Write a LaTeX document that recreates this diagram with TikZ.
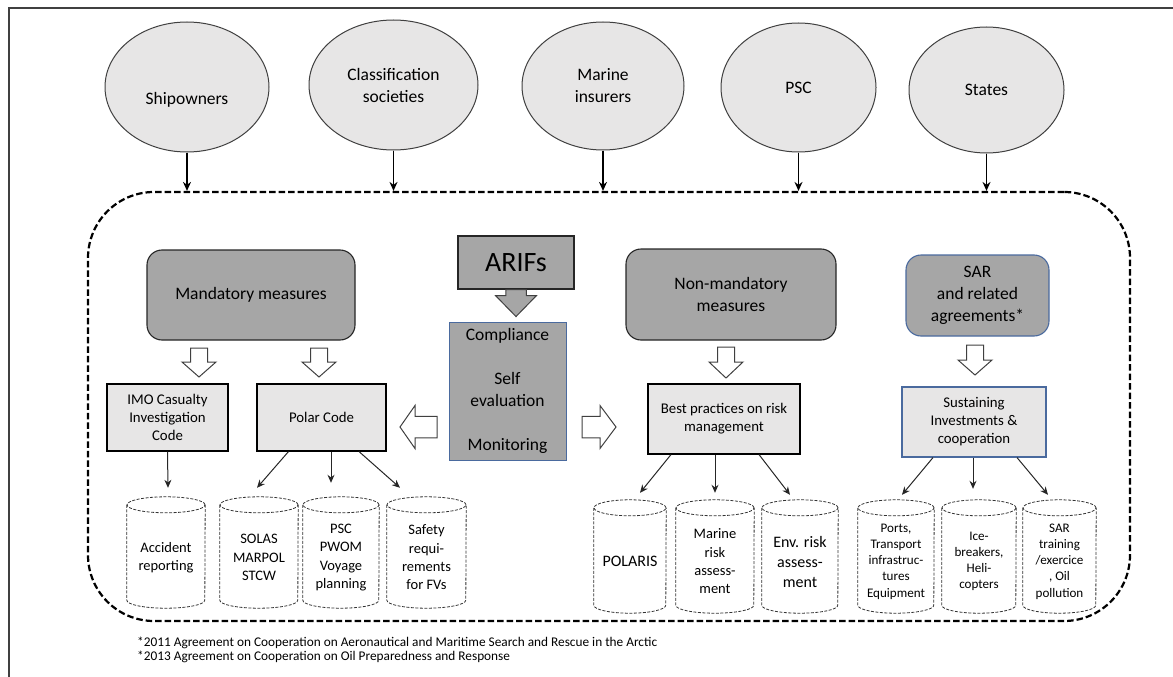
\documentclass[tikz,border=0pt]{standalone}
\usepackage{fontspec}
\setmainfont{Carlito}
\usepackage{xcolor}
\usetikzlibrary{calc, shapes.geometric, arrows.meta}

\definecolor{edgeGray}{HTML}{404040}
\definecolor{partyFill}{HTML}{E7E6E6}
\definecolor{darkFill}{HTML}{A6A6A6}
\definecolor{lightFill}{HTML}{E7E6E6}
\definecolor{blueEdge}{HTML}{4A6A9E}

\newcommand{\fsBig}{\fontsize{17.5pt}{22pt}\selectfont}
\newcommand{\fsHuge}{\fontsize{28pt}{32pt}\selectfont}
\newcommand{\fsBox}{\fontsize{14.8pt}{18pt}\selectfont}
\newcommand{\fsCyl}{\fontsize{14.5pt}{18.3pt}\selectfont}
\newcommand{\fsCylSmall}{\fontsize{13.1pt}{16.2pt}\selectfont}
\newcommand{\fsCylLarge}{\fontsize{16pt}{20pt}\selectfont}
\newcommand{\fsNote}{\fontsize{13.3pt}{14.5pt}\selectfont}

\tikzset{
	party/.style={ellipse, draw=edgeGray, line width=1pt, fill=partyFill, inner sep=0pt, align=center, font=\fsBig},
	zone/.style={draw=black, line width=2.2pt, dash pattern=on 6.5pt off 3pt, rounded corners=66pt, inner sep=0pt},
	darkbox/.style={draw=black!85, line width=1.1pt, fill=darkFill, inner sep=0pt, align=center, font=\fsBig},
	lightbox/.style={draw=black, line width=1.1pt, fill=lightFill, inner sep=0pt, align=center, font=\fsBox},
	cyl/.style={inner sep=0pt, align=center, font=\fsCyl},
	cylline/.style={draw=black!80, line width=0.8pt, dash pattern=on 3pt off 1.5pt},
	hollowarrow/.style={draw=edgeGray, line width=1pt, fill=white},
	grayarrow/.style={draw=edgeGray, line width=1pt, fill=darkFill},
	toparrow/.style={-{Stealth[length=9pt, width=8pt]}, line width=1.8pt},
	thinarrow/.style={-{Stealth[length=8pt, width=7pt]}, line width=1pt, draw=black!85},
	frameline/.style={draw=edgeGray, line width=1.2pt},
	note/.style={inner sep=0pt, align=left, font=\fsNote}
}

\begin{document}
\begin{tikzpicture}[x=1pt, y=-1pt]
	\useasboundingbox (0,0) rectangle (1173,677);

	\newcommand{\drawCylinder}[2]
	{
		\draw[cylline] ([yshift=2pt]#1.north) ellipse (#2pt and 8pt);
		\draw[cylline] ([yshift=2pt]#1.north west) -- ([yshift=8pt]#1.south west) arc (180:360:#2pt and 8pt) -- ([yshift=2pt]#1.north east);
	}

	\newcommand{\drawBlockArrow}[6]
	{
		\draw[#6, shift={#1}, rotate=#2] (0,-#5/2) -- (#3-#4,-#5/2) -- (#3-#4,-#5) -- (#3,0) -- (#3-#4,#5) -- (#3-#4,#5/2) -- (0,#5/2) -- cycle
	}

	\draw[frameline] (9,677) -- (9,8) -- (1173,8);

	% actors
	\node[party, minimum width=164pt, minimum height=130pt] (ship) at (187,87) {\strut\\Shipowners};
	\node[party, minimum width=169pt, minimum height=130pt] (class) at (393.5,85) {Classification\\societies};
	\node[party, minimum width=162pt, minimum height=128pt] (marine) at (603,86) {Marine\\insurers};
	\node[party, minimum width=155pt, minimum height=129pt] (psc) at (798.5,87.5) {PSC};
	\node[party, minimum width=155pt, minimum height=126pt] (states) at (986.5,90) {States};

	\node[zone, minimum width=1042pt, minimum height=429pt] (zone) at (609,406.5) {};

	\foreach \p in {ship, class, marine, psc, states}
		\draw[toparrow] (\p.south) -- (\p.south |- zone.north);

	% measures
	\node[darkbox, rounded corners=15pt, minimum width=208pt, minimum height=90pt] (mand) at (251,295) {Mandatory measures};
	\node[darkbox, font=\fsHuge, minimum width=116pt, minimum height=53pt] (arifs) at (516,262.5) {ARIFs};
	\node[darkbox, draw=blueEdge, line width=0.8pt, minimum width=117pt, minimum height=138pt] (comply) at (507.5,391) {Compliance\\[21.6pt]Self\\evaluation\\[21.6pt]Monitoring};
	\node[darkbox, rounded corners=15pt, minimum width=210pt, minimum height=91pt] (nonmand) at (731,294.5) {Non-mandatory\\measures};
	\node[darkbox, draw=blueEdge, rounded corners=15pt, minimum width=143pt, minimum height=81pt] (sar) at (977.5,295.5) {SAR\\and related\\agreements*};

	\node[lightbox, minimum width=121pt, minimum height=67pt] (imo) at (167.5,417.5) {IMO Casualty\\Investigation\\Code};
	\node[lightbox, minimum width=129pt, minimum height=67pt] (polar) at (321.5,417.5) {Polar Code};
	\node[lightbox, minimum width=152pt, minimum height=70pt] (best) at (724,419) {Best practices on risk\\management};
	\node[lightbox, draw=blueEdge, minimum width=144pt, minimum height=70pt] (sust) at (974,422) {Sustaining\\Investments \&\\cooperation};

	\begin{scope}
		\drawBlockArrow{(arifs.south)}{-90}{27}{21}{20.5}{grayarrow};
		\drawBlockArrow{(199,348)}{-90}{29}{15}{17}{hollowarrow};
		\drawBlockArrow{(319,348)}{-90}{29}{15}{17}{hollowarrow};
		\drawBlockArrow{(726,347)}{-90}{31}{16}{17}{hollowarrow};
		\drawBlockArrow{(975,345)}{-90}{30}{15}{17}{hollowarrow};
		\drawBlockArrow{(437,427)}{180}{37}{15}{21.5}{hollowarrow};
		\drawBlockArrow{(582,427)}{0}{34}{16}{21.5}{hollowarrow};
	\end{scope}

	% instruments
	\node[cyl, minimum width=78pt, minimum height=101pt] (acc) at (166,557.5) {Accident\\reporting};
	\node[cyl, minimum width=78pt, minimum height=101pt] (solas) at (259,557.5) {SOLAS\\MARPOL\\STCW};
	\node[cyl, minimum width=76pt, minimum height=101pt] (pscc) at (341,557.5) {PSC\\PWOM\\Voyage\\planning};
	\node[cyl, minimum width=79pt, minimum height=101pt] (safety) at (426.5,557.5) {Safety\\requi-\\rements\\for FVs};
	\node[cyl, font=\fsCylLarge, minimum width=72pt, minimum height=103pt] (polaris) at (630,561.5) {POLARIS};
	\node[cyl, minimum width=78pt, minimum height=103pt] (marrisk) at (715,561.5) {Marine\\risk\\assess-\\ment};
	\node[cyl, font=\fsCylLarge, minimum width=76pt, minimum height=103pt] (envrisk) at (800,561.5) {Env. risk\\assess-\\ment};
	\node[cyl, font=\fsCylSmall, minimum width=76pt, minimum height=103pt] (ports) at (896,561.5) {Ports,\\Transport\\infrastruc-\\tures\\Equipment};
	\node[cyl, font=\fsCylSmall, minimum width=74pt, minimum height=103pt] (ice) at (979,561.5) {Ice-\\breakers,\\Heli-\\copters};
	\node[cyl, font=\fsCylSmall, minimum width=73pt, minimum height=103pt] (sartr) at (1059.5,561.5) {SAR\\training\\/exercice\\, Oil\\pollution};

	\drawCylinder{acc}{39}
	\drawCylinder{solas}{39}
	\drawCylinder{pscc}{38}
	\drawCylinder{safety}{39.5}
	\drawCylinder{polaris}{36}
	\drawCylinder{marrisk}{39}
	\drawCylinder{envrisk}{38}
	\drawCylinder{ports}{38}
	\drawCylinder{ice}{37}
	\drawCylinder{sartr}{36.5}

	\draw[thinarrow] (imo.south) -- ([xshift=2pt, yshift=19pt]acc.north);
	\draw[thinarrow] ([xshift=-33pt]polar.south) -- ([xshift=-2pt, yshift=19pt]solas.north);
	\draw[thinarrow] ([xshift=9.5pt]polar.south) -- ([xshift=-10pt, yshift=24pt]pscc.north);
	\draw[thinarrow] ([xshift=37.5pt]polar.south) -- ([xshift=-26.5pt, yshift=19pt]safety.north);
	\draw[thinarrow] ([xshift=-53pt]best.south) -- ([xshift=10pt, yshift=17pt]polaris.north);
	\draw[thinarrow] ([xshift=-9pt]best.south) -- ([yshift=17pt]marrisk.north);
	\draw[thinarrow] ([xshift=35pt]best.south) -- ([xshift=-10pt, yshift=15pt]envrisk.north);
	\draw[thinarrow] ([xshift=-41pt]sust.south) -- ([xshift=6pt, yshift=15pt]ports.north);
	\draw[thinarrow] ([xshift=-1pt]sust.south) -- ([xshift=-6pt, yshift=21pt]ice.north);
	\draw[thinarrow] ([xshift=43pt]sust.south) -- ([xshift=-11.5pt, yshift=15pt]sartr.north);

	\node[note, anchor=west] (notes) at (137,650) {*2011 Agreement on Cooperation on Aeronautical and Maritime Search and Rescue in the Arctic\\*2013 Agreement on Cooperation on Oil Preparedness and Response};
\end{tikzpicture}
\end{document}
